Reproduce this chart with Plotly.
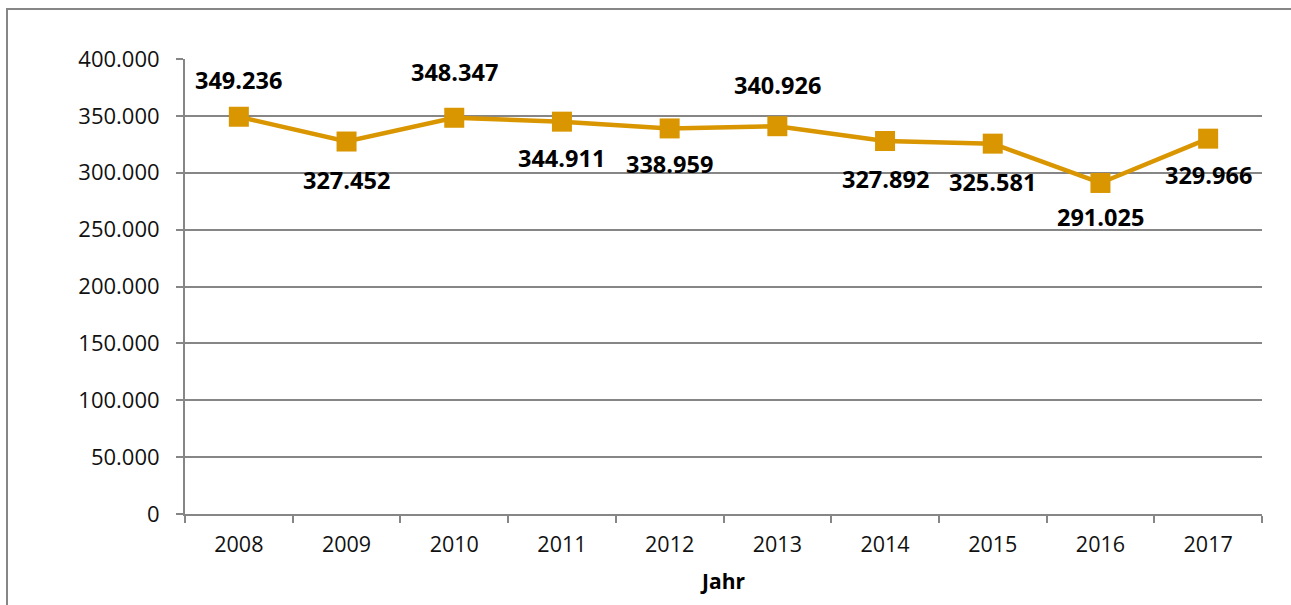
import plotly.graph_objects as go

years = ["2008", "2009", "2010", "2011", "2012", "2013", "2014", "2015", "2016", "2017"]
values = [349236, 327452, 348347, 344911, 338959, 340926, 327892, 325581, 291025, 329966]
labels = ["349.236", "327.452", "348.347", "344.911", "338.959", "340.926", "327.892", "325.581", "291.025", "329.966"]
label_shift = [37, -38, 46, -36, -36, 41, -38, -38, -34, -36]

LINE = "rgb(217,150,0)"
GRID = "#868686"
FONT = "Open Sans"

fig = go.Figure()
fig.add_trace(go.Scatter(
    x=years, y=values, mode="lines+markers",
    line=dict(color=LINE, width=4.5),
    marker=dict(symbol="square", size=20, color=LINE),
    hoverinfo="skip", showlegend=False,
))

for i, (v, t, s) in enumerate(zip(values, labels, label_shift)):
    fig.add_annotation(x=i, y=v, xref="x", yref="y", text=t, showarrow=False, yshift=s,
                       font=dict(family=FONT, size=23.5, color="black", weight="bold"))

L, R, T, B = 185, 29, 59, 91
W, H = 1291, 605
pw, ph = W - L - R, H - T - B
def px(x): return (x - L) / pw
def py(y): return (H - B - y) / ph

fig.add_shape(type="rect", xref="paper", yref="paper",
              x0=px(7), x1=px(1300), y0=py(9), y1=py(640),
              line=dict(color=GRID, width=2), layer="above")

fig.update_layout(
    width=W, height=H,
    margin=dict(l=L, r=R, t=T, b=B),
    plot_bgcolor="white", paper_bgcolor="white",
    separators=",.",
    font=dict(family=FONT, size=20, color="#111111"),
)
fig.update_xaxes(
    type="category", range=[-0.5, 9.5],
    showline=True, linecolor=GRID, linewidth=2,
    ticks="outside", tickson="boundaries", ticklen=7, tickcolor=GRID, tickwidth=2,
    showgrid=False, ticklabelstandoff=10,
    tickfont=dict(size=21.5, family=FONT, color="#111111"),
    title=dict(text="Jahr", font=dict(size=21, family=FONT, color="black", weight="bold"), standoff=18),
)
fig.update_yaxes(
    range=[0, 400000], dtick=50000, tickformat=",d",
    showline=True, linecolor=GRID, linewidth=2,
    ticks="outside", ticklen=7, tickcolor=GRID, tickwidth=2,
    showgrid=True, gridcolor=GRID, gridwidth=2,
    zeroline=False, ticklabelstandoff=12,
    tickfont=dict(size=22, family=FONT, color="#111111"),
)

fig.write_html("out.html", config={"displayModeBar": False},
               post_script="document.body.style.margin='0';document.body.style.overflow='hidden';")
